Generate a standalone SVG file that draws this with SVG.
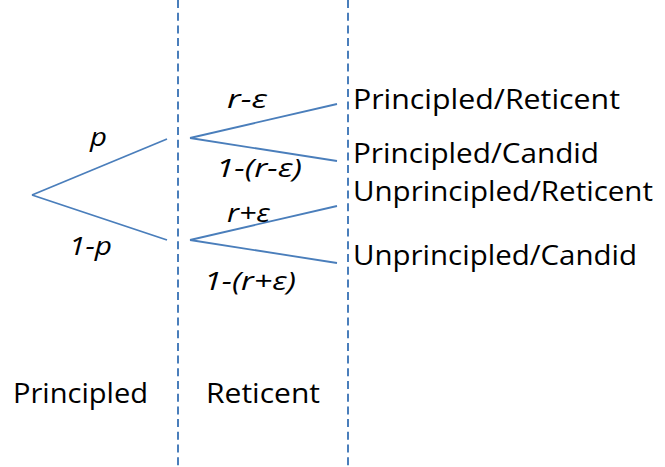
<svg xmlns="http://www.w3.org/2000/svg" width="665" height="467" viewBox="0 0 665 467">
<style>
.t{font-family:"Open Sans","Liberation Sans",sans-serif;font-size:27px;fill:#000}
.i{font-family:"Open Sans","Liberation Sans",sans-serif;font-size:25px;font-style:italic;fill:#000}
.b{stroke:#4a7ebb;stroke-width:1.8;fill:none}
.d{stroke:#4a7ebb;stroke-width:2;stroke-dasharray:8 4.7;fill:none}
</style>
<rect width="665" height="467" fill="#fff"/>
<g id="guides">
<line class="d" x1="178" y1="0" x2="178" y2="467"/>
<line class="d" x1="348" y1="0" x2="348" y2="467"/>
</g>
<g id="connectors">
<line class="b" x1="32" y1="195" x2="167" y2="139"/>
<line class="b" x1="32" y1="195" x2="167" y2="240"/>
<line class="b" x1="190" y1="138" x2="337" y2="104"/>
<line class="b" x1="190" y1="138" x2="337" y2="161"/>
<line class="b" x1="190" y1="240" x2="337" y2="206"/>
<line class="b" x1="190" y1="240" x2="337" y2="263"/>
</g>
<g id="edge-labels">
<text class="i" x="90" y="146" textLength="17" lengthAdjust="spacingAndGlyphs">p</text>
<text class="i" x="69" y="255" textLength="43" lengthAdjust="spacingAndGlyphs">1-p</text>
<text class="i" x="227" y="108" textLength="40" lengthAdjust="spacingAndGlyphs">r-ε</text>
<text class="i" x="216" y="177" textLength="86" lengthAdjust="spacingAndGlyphs">1-(r-ε)</text>
<text class="i" x="227" y="222" textLength="43" lengthAdjust="spacingAndGlyphs">r+ε</text>
<text class="i" x="204" y="290" textLength="92" lengthAdjust="spacingAndGlyphs">1-(r+ε)</text>
</g>
<g id="outcome-pr"><text class="t" x="353" y="109" textLength="267" lengthAdjust="spacingAndGlyphs">Principled/Reticent</text></g>
<g id="outcome-pc"><text class="t" x="353" y="163" textLength="246" lengthAdjust="spacingAndGlyphs">Principled/Candid</text></g>
<g id="outcome-ur"><text class="t" x="353" y="201" textLength="300" lengthAdjust="spacingAndGlyphs">Unprincipled/Reticent</text></g>
<g id="outcome-uc"><text class="t" x="353" y="265" textLength="284" lengthAdjust="spacingAndGlyphs">Unprincipled/Candid</text></g>
<g id="col-principled"><text class="t" x="13" y="403" textLength="135" lengthAdjust="spacingAndGlyphs">Principled</text></g>
<g id="col-reticent"><text class="t" x="206" y="403" textLength="114" lengthAdjust="spacingAndGlyphs">Reticent</text></g>
</svg>
